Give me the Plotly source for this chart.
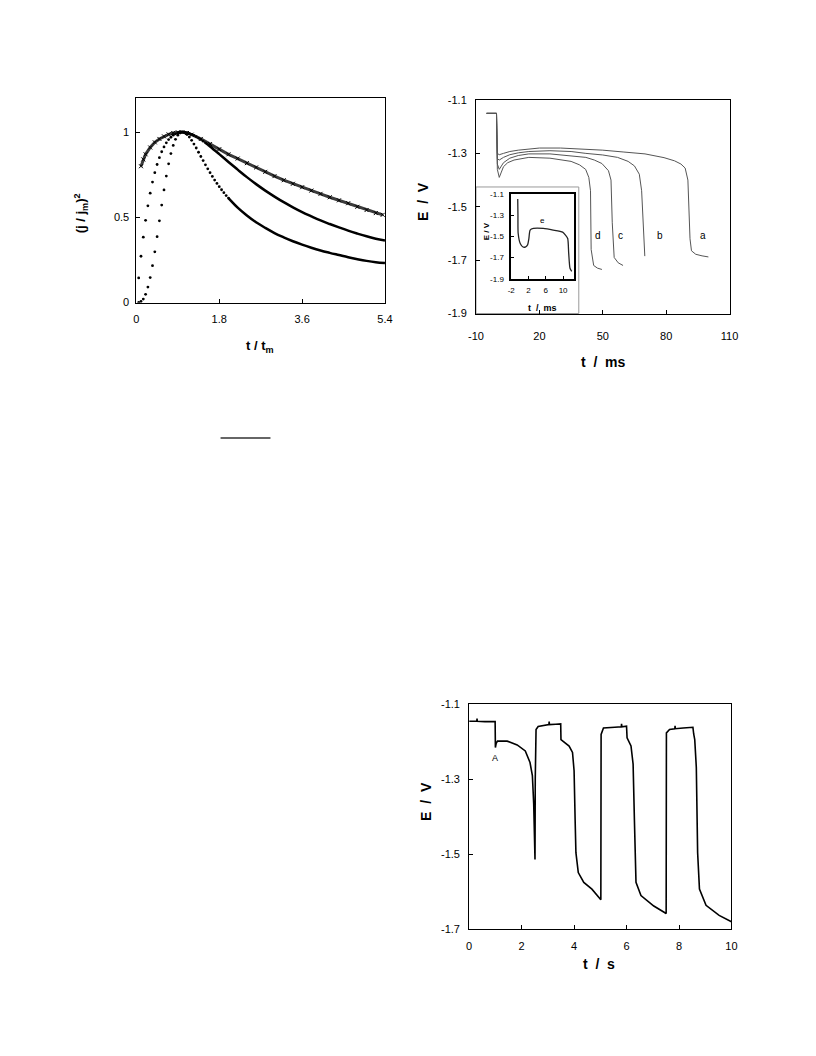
import plotly.graph_objects as go

# The page body has an 8px default margin, so the figure is made 16px smaller
# and every page-pixel position is converted with that offset.
PAGE_W, PAGE_H, OFF = 816, 1056, 8
W, H = PAGE_W - 2 * OFF, PAGE_H - 2 * OFF
def px(x): return (x - OFF) / W
def py(y): return 1 - (y - OFF) / H

# ---------------- Panel 1 : (j/jm)^2 vs t/tm ----------------
t_dots = [0.05,0.10,0.15,0.20,0.25,0.30,0.35,0.40,0.45,0.50,0.55,0.60,0.65,0.70,0.75,0.80,
          0.85,0.90,0.95,1.00,1.05,1.10,1.15,1.20,1.25,1.30,1.35,1.40,1.45,1.50]
inst_dots = [0.145,0.272,0.384,0.483,0.568,0.642,0.707,0.762,0.810,0.850,0.885,0.913,0.937,
             0.956,0.970,0.982,0.990,0.996,0.999,1.000,0.999,0.997,0.992,0.987,0.981,0.974,
             0.965,0.957,0.947,0.937]
t_tail_inst = [1.5,1.6,1.8,2.0,2.2,2.4,2.6,2.8,3.0,3.2,3.4,3.6,3.8,4.0,4.2,4.4,4.6,4.8,5.0,5.2,5.4]
inst_tail = [0.937,0.916,0.871,0.825,0.780,0.736,0.695,0.657,0.622,0.589,0.559,0.531,0.506,
             0.482,0.461,0.441,0.422,0.405,0.389,0.375,0.365]

t_dots_prog = t_dots + [1.55,1.60,1.65,1.70,1.75,1.80,1.85,1.90,1.95,2.00]
prog_dots = [0.001,0.007,0.021,0.049,0.091,0.147,0.217,0.298,0.387,0.480,0.572,0.661,0.742,
             0.814,0.874,0.922,0.958,0.982,0.996,1.000,0.996,0.986,0.971,0.952,0.930,0.907,
             0.882,0.857,0.833,0.808,0.785,0.762,0.740,0.719,0.699,0.680,0.662,0.645,0.628,0.613]
t_tail_prog = [2.0,2.2,2.4,2.6,2.8,3.0,3.2,3.4,3.6,3.8,4.0,4.2,4.4,4.6,4.8,5.0,5.2,5.4]
prog_tail = [0.613,0.557,0.511,0.471,0.438,0.408,0.383,0.360,0.340,0.322,0.306,0.292,0.279,
             0.266,0.255,0.245,0.237,0.232]

t_exp = [0.10,0.15,0.20,0.30,0.40,0.50,0.60,0.70,0.80,0.90,1.00,1.10,1.20,1.40,1.60,1.80,2.00,
         2.20,2.40,2.60,2.80,3.00,3.20,3.40,3.60,3.80,4.00,4.20,4.40,4.60,4.80,5.00,5.20,5.35]
exp_vals = [0.80,0.84,0.87,0.91,0.94,0.96,0.975,0.987,0.995,0.999,1.000,0.995,0.985,0.960,
            0.930,0.900,0.870,0.845,0.818,0.793,0.767,0.742,0.718,0.697,0.677,0.657,0.638,
            0.618,0.600,0.583,0.562,0.543,0.525,0.515]

# ---------------- Panel 2 : chronopotentiograms (ms) ----------------
a_t = [-5,-0.3,0.1,1,3,6,10,15,20,30,40,50,60,70,79,84,87,89,90.3,90.8,91.3,92,94,97,100]
a_E = [-1.15,-1.15,-1.30,-1.305,-1.30,-1.293,-1.288,-1.283,-1.280,-1.280,-1.283,-1.288,-1.295,
       -1.302,-1.316,-1.328,-1.34,-1.355,-1.40,-1.50,-1.62,-1.665,-1.678,-1.684,-1.688]
b_t = [-5,-0.3,0.1,1,3,6,10,15,25,35,42,50,57,62,65,67.3,68.4,69.3,69.9]
b_E = [-1.15,-1.15,-1.32,-1.325,-1.315,-1.305,-1.298,-1.293,-1.290,-1.293,-1.300,-1.306,
       -1.315,-1.330,-1.347,-1.378,-1.44,-1.56,-1.685]
c_t = [-5,-0.3,0.1,1,3,6,10,15,25,35,42,46,49.6,52.7,53.9,54.5,55.4,57.3,59.6]
c_E = [-1.15,-1.15,-1.34,-1.36,-1.335,-1.318,-1.308,-1.302,-1.302,-1.308,-1.315,-1.325,-1.338,
       -1.365,-1.40,-1.56,-1.69,-1.71,-1.72]
d_t = [-5,-0.3,0.1,1,2,3,5,8,15,25,35,39,41.9,43.4,44.2,44.5,45.7,47.5,49.6]
d_E = [-1.15,-1.15,-1.36,-1.39,-1.37,-1.35,-1.335,-1.325,-1.315,-1.318,-1.330,-1.343,-1.36,
       -1.39,-1.44,-1.66,-1.72,-1.73,-1.735]
curve_labels = ["a","b","c","d"]
label_t = [97.4,77.1,58.6,47.9]
label_E = [-1.607,-1.607,-1.607,-1.607]

# inset (curve e)
e_t = [-0.5,-0.45,-0.4,0.11,0.72,1.25,1.78,2.08,2.37,3.14,5.4,7.7,9.9,10.6,11.07,11.3,11.6,12.0]
e_E = [-1.147,-1.30,-1.47,-1.57,-1.60,-1.60,-1.58,-1.52,-1.44,-1.425,-1.425,-1.44,-1.46,
       -1.49,-1.52,-1.66,-1.80,-1.83]

# ---------------- Panel 3 : E vs t (s) ----------------
s_t = [0,0.29,0.30,0.31,0.6,0.99,1.0,1.03,1.08,1.45,1.83,2.14,2.32,2.41,2.46,2.48,2.51,2.52,
       2.55,2.63,2.94,3.04,3.05,3.06,3.3,3.49,3.5,3.63,3.81,3.94,4.0,4.04,4.07,4.16,4.37,4.68,
       5.02,5.03,5.12,5.55,5.8,5.81,5.82,6.0,6.02,6.17,6.25,6.3,6.36,6.55,7.04,7.51,7.52,7.64,
       7.84,7.85,7.86,8.16,8.53,8.56,8.6,8.66,8.71,8.78,9.03,9.53,10.0]
s_E = [-1.146,-1.146,-1.139,-1.146,-1.147,-1.147,-1.216,-1.205,-1.199,-1.199,-1.209,-1.225,
       -1.256,-1.291,-1.365,-1.453,-1.514,-1.30,-1.168,-1.160,-1.155,-1.155,-1.147,-1.155,
       -1.154,-1.153,-1.195,-1.203,-1.212,-1.229,-1.278,-1.409,-1.496,-1.549,-1.575,-1.593,
       -1.621,-1.181,-1.164,-1.162,-1.161,-1.153,-1.161,-1.159,-1.19,-1.212,-1.26,-1.409,
       -1.575,-1.61,-1.638,-1.658,-1.177,-1.168,-1.166,-1.158,-1.166,-1.164,-1.162,-1.180,
       -1.195,-1.269,-1.496,-1.593,-1.636,-1.663,-1.68]

# tick labels
p1_xticks = [0, 1.8, 3.6, 5.4]
p1_yticks = [0, 0.5, 1]
p2_xticks = [-10, 20, 50, 80, 110]
E_ticks = [-1.9, -1.7, -1.5, -1.3, -1.1]
inset_xticks = [-2, 2, 6, 10]
p3_xticks = [0, 2, 4, 6, 8, 10]
p3_yticks = [-1.7, -1.5, -1.3, -1.1]
def lab(v): return [("%g" % x) for x in v]

FONT = "Liberation Sans, Arial, sans-serif"
fig = go.Figure()

# panel 1 traces
fig.add_trace(go.Scatter(x=t_exp, y=exp_vals, mode="lines+markers", xaxis="x", yaxis="y",
                         line=dict(color="#3c3c3c", width=3),
                         marker=dict(symbol="x-thin", size=4, line=dict(width=1, color="black"))))
fig.add_trace(go.Scatter(x=t_dots, y=inst_dots, mode="markers", xaxis="x", yaxis="y",
                         marker=dict(size=2.8, color="black")))
fig.add_trace(go.Scatter(x=t_tail_inst, y=inst_tail, mode="lines", xaxis="x", yaxis="y",
                         line=dict(color="black", width=2.5, shape="spline")))
fig.add_trace(go.Scatter(x=t_dots_prog, y=prog_dots, mode="markers", xaxis="x", yaxis="y",
                         marker=dict(size=2.8, color="black")))
fig.add_trace(go.Scatter(x=t_tail_prog, y=prog_tail, mode="lines", xaxis="x", yaxis="y",
                         line=dict(color="black", width=2.5, shape="spline")))

# panel 2 traces
for tt, ee in [(a_t, a_E), (b_t, b_E), (c_t, c_E), (d_t, d_E)]:
    fig.add_trace(go.Scatter(x=tt, y=ee, mode="lines", xaxis="x2", yaxis="y2",
                             line=dict(color="#555555", width=1)))
fig.add_trace(go.Scatter(x=e_t, y=e_E, mode="lines", xaxis="x3", yaxis="y3",
                         line=dict(color="#222222", width=1.3, shape="spline", smoothing=0.6)))

# panel 3 trace
fig.add_trace(go.Scatter(x=s_t, y=s_E, mode="lines", xaxis="x4", yaxis="y4",
                         line=dict(color="black", width=1.6)))

tickfont = dict(family=FONT, size=11, color="black")
common = dict(showgrid=False, zeroline=False, showline=True, mirror=True, linecolor="black",
              linewidth=1, ticks="inside", ticklen=4, tickcolor="black", tickfont=tickfont)
inset_common = {**common, "tickfont": dict(family=FONT, size=8, color="black"), "ticklen": 3,
                "linewidth": 1.5}

fig.update_layout(
    width=W, height=H, margin=dict(l=0, r=0, t=0, b=0),
    paper_bgcolor="white", plot_bgcolor="rgba(0,0,0,0)", showlegend=False,
    xaxis=dict(domain=[px(131), px(385)], range=[0, 5.4], tickvals=p1_xticks,
               ticktext=lab(p1_xticks), anchor="y", ticklabelstandoff=6, **common),
    yaxis=dict(domain=[py(300), py(93)], range=[0, 1.2], tickvals=p1_yticks,
               ticktext=lab(p1_yticks), anchor="x", ticklabelstandoff=4, **common),
    xaxis2=dict(domain=[px(478), px(737)], range=[-10, 110], tickvals=p2_xticks,
                ticktext=lab(p2_xticks), anchor="y2", ticklabelstandoff=12, **common),
    yaxis2=dict(domain=[py(311), py(95)], range=[-1.9, -1.1], tickvals=E_ticks,
                ticktext=lab(E_ticks), anchor="x2", ticklabelstandoff=6, **common),
    xaxis3=dict(domain=[px(514), px(578)], range=[-2, 12.5], tickvals=inset_xticks,
                ticktext=lab(inset_xticks), anchor="y3", ticklabelstandoff=3, **inset_common),
    yaxis3=dict(domain=[py(276), py(190)], range=[-1.9, -1.1], tickvals=E_ticks,
                ticktext=lab(E_ticks), anchor="x3", ticklabelstandoff=4, **inset_common),
    xaxis4=dict(domain=[px(471), px(739)], range=[0, 10], tickvals=p3_xticks,
                ticktext=lab(p3_xticks), anchor="y4", ticklabelstandoff=6, **common),
    yaxis4=dict(domain=[py(934), py(706)], range=[-1.7, -1.1], tickvals=p3_yticks,
                ticktext=lab(p3_yticks), anchor="x4", ticklabelstandoff=6, **common),
)

shapes = [
    dict(type="rect", xref="paper", yref="paper", x0=px(478), x1=px(583), y0=py(311), y1=py(183),
         line=dict(color="#9a9a9a", width=1), fillcolor="white", layer="below"),
    dict(type="line", xref="paper", yref="paper", x0=px(217), x1=px(268), y0=py(437), y1=py(437),
         line=dict(color="#333333", width=1.5)),
]
fig.update_layout(shapes=shapes)

nb = "\u00a0"
ann = []
def title(text, x, y, size, angle=0):
    ann.append(dict(text=text, x=px(x), y=py(y), xref="paper", yref="paper", showarrow=False,
                    textangle=angle, xanchor="center", yanchor="middle",
                    font=dict(family=FONT, size=size, color="black")))

title("<b>(j / j<sub>m</sub>)<sup>2</sup></b>", 74, 210, 13, -90)
title("<b>t / t<sub>m</sub></b>", 257, 344, 13)
title(f"<b>E{nb}{nb}/{nb}{nb}V</b>", 424, 198, 14, -90)
title(f"<b>t{nb}{nb}/{nb}{nb}ms</b>", 608, 360, 14)
title("<b>E / V</b>", 489, 228, 8, -90)
title(f"<b>t{nb}{nb}/{nb}{nb}ms</b>", 546, 305, 9)
title(f"<b>E{nb}{nb}/{nb}{nb}V</b>", 427, 805, 14, -90)
title(f"<b>t{nb}{nb}/{nb}{nb}s</b>", 604, 969, 14)

for lb, lt, le in zip(curve_labels, label_t, label_E):
    ann.append(dict(text=lb, x=lt, y=le, xref="x2", yref="y2", showarrow=False,
                    font=dict(family=FONT, size=10, color="black")))
ann.append(dict(text="e", x=5.25, y=-1.35, xref="x3", yref="y3", showarrow=False,
                font=dict(family=FONT, size=8, color="black")))
ann.append(dict(text="A", x=1.0, y=-1.243, xref="x4", yref="y4", showarrow=False,
                font=dict(family=FONT, size=9, color="black")))
fig.update_layout(annotations=ann)

fig.write_html("out.html")
